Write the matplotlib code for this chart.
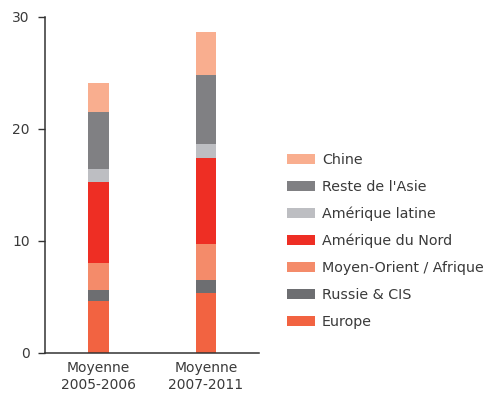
import matplotlib
matplotlib.use("Agg")
import matplotlib.pyplot as plt
from matplotlib.patches import Patch

plt.rcParams['font.family'] = ['DejaVu Sans']

# Periods on the x axis
periods = ["Moyenne\n2005-2006", "Moyenne\n2007-2011"]

# Stacked regions, bottom to top
regions = ["Europe", "Russie & CIS", "Moyen-Orient / Afrique", "Amérique du Nord",
           "Amérique latine", "Reste de l'Asie", "Chine"]

europe = [4.6, 5.4]
russie_cis = [1.0, 1.1]
moyen_orient_afrique = [2.45, 3.2]
amerique_nord = [7.25, 7.7]
amerique_latine = [1.15, 1.26]
reste_asie = [5.1, 6.14]
chine = [2.6, 3.9]

series = [europe, russie_cis, moyen_orient_afrique, amerique_nord,
          amerique_latine, reste_asie, chine]
colors = ["#F26341", "#6D6E71", "#F48B6A", "#EE2E24", "#BDBEC2", "#808083", "#F9AE8F"]

y_ticks = [0, 10, 20, 30]

text_color = "#3a3a3a"

fig = plt.figure(figsize=(4.88, 3.94), dpi=100)
ax = fig.add_axes([0.0922, 0.1041, 0.4385, 0.8528])

x = list(range(len(periods)))
bottom = [0.0] * len(periods)
for vals, col in zip(series, colors):
    ax.bar(x, vals, width=0.195, bottom=bottom, color=col, linewidth=0)
    bottom = [b + v for b, v in zip(bottom, vals)]

ax.set_xlim(-0.498, 1.493)
ax.set_ylim(0, 30)
ax.set_yticks(y_ticks)
ax.set_xticks(x)
ax.set_xticklabels(periods, fontsize=10, color=text_color, linespacing=1.25)
ax.tick_params(axis='y', length=5, width=1, color="#333333", labelsize=10,
               labelcolor=text_color, pad=6)
ax.tick_params(axis='x', length=0, pad=6)
for s in ["top", "right"]:
    ax.spines[s].set_visible(False)
for s in ["left", "bottom"]:
    ax.spines[s].set_color("#333333")
    ax.spines[s].set_linewidth(1.1)

handles = [Patch(facecolor=c, edgecolor='none', label=r)
           for c, r in zip(colors, regions)][::-1]
fig.legend(handles=handles, loc='upper left', bbox_to_anchor=(0.588, 0.612),
           frameon=False, fontsize=10.3, handlelength=1.95, handleheight=0.7,
           handletextpad=0.5, labelspacing=0.9, labelcolor=text_color,
           borderaxespad=0, borderpad=0)

fig.savefig("out.png", dpi=100)
